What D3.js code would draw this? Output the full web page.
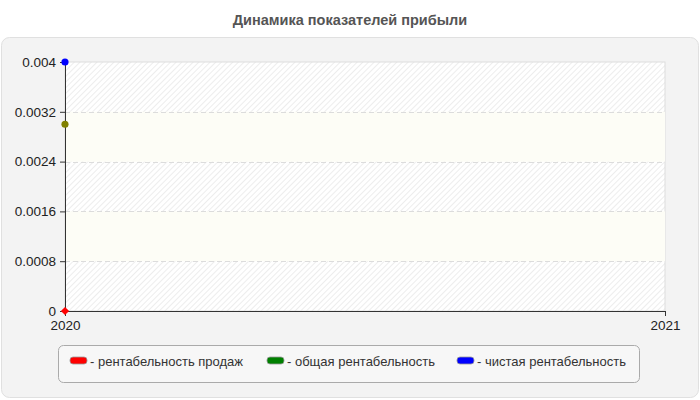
<!DOCTYPE html>
<html><head><meta charset="utf-8">
<script src="https://cdn.jsdelivr.net/npm/d3@7"></script>
<style>body{margin:0;background:#fff;}svg{display:block;font-family:Arial,"Liberation Sans",sans-serif;}</style>
</head><body>
<svg id="c" width="700" height="400"></svg>
<script>
const years = ["2020", "2021"];
const seriesNames = ["рентабельность продаж", "общая рентабельность", "чистая рентабельность"];
const seriesColors = ["#ff0000", "#008000", "#0000ff"];
const pointColors = ["#ff0000", "#808000", "#0000ff"];
const salesProfitability = [0, null];
const totalProfitability = [0.003, null];
const netProfitability = [0.004, null];
const yTicks = [0, 0.0008, 0.0016, 0.0024, 0.0032, 0.004];
const yTickLabels = ["0", "0.0008", "0.0016", "0.0024", "0.0032", "0.004"];

const series = [salesProfitability, totalProfitability, netProfitability];
const svg = d3.select("#c");
const defs = svg.append("defs");
const pat = defs.append("pattern").attr("id","hatch").attr("patternUnits","userSpaceOnUse")
  .attr("width",4).attr("height",4).attr("patternTransform","rotate(45)");
pat.append("rect").attr("width",4).attr("height",4).attr("fill","#ffffff");
pat.append("line").attr("x1",0).attr("y1",0).attr("x2",0).attr("y2",4).attr("stroke","#e8e8e8").attr("stroke-width",1.5);

svg.append("text").attr("x",350).attr("y",25).attr("text-anchor","middle")
  .attr("font-size",14.5).attr("font-weight","bold").attr("fill","#555").text("Динамика показателей прибыли");

svg.append("rect").attr("x",1.5).attr("y",37.5).attr("width",697).attr("height",360).attr("rx",8)
  .attr("fill","#f3f3f3").attr("stroke","#e0e0e0");

const L=65, R=665, T=62, B=311;
const x = d3.scalePoint().domain(years).range([L,R]);
const y = d3.scaleLinear().domain([0,0.004]).range([B,T]);

svg.append("rect").attr("x",L).attr("y",T).attr("width",R-L).attr("height",B-T).attr("fill","url(#hatch)").attr("stroke","#ddd");
for (let i=0;i<yTicks.length-1;i++){
  if (i%2===1){
    svg.append("rect").attr("x",L+1).attr("y",y(yTicks[i+1])).attr("width",R-L-1)
      .attr("height",y(yTicks[i])-y(yTicks[i+1])).attr("fill","#fdfdf6");
  }
}
svg.append("g").selectAll("line").data(yTicks.slice(1,-1)).join("line")
  .attr("x1",L).attr("x2",R).attr("y1",d=>Math.round(y(d))+0.5).attr("y2",d=>Math.round(y(d))+0.5)
  .attr("stroke","#dcdcdc").attr("stroke-dasharray","5,3");

const yAxis = svg.append("g").attr("transform",`translate(${L},0)`)
  .call(d3.axisLeft(y).tickValues(yTicks).tickFormat((d,i)=>yTickLabels[i]).tickSize(5).tickSizeOuter(0).tickPadding(4));
yAxis.select(".domain").attr("stroke","#333");
yAxis.selectAll(".tick line").attr("stroke","#333");
yAxis.selectAll("text").attr("font-size",13.5).attr("fill","#222").attr("font-family","Arial,'Liberation Sans',sans-serif");

const xAxis = svg.append("g").attr("transform",`translate(0,${B})`)
  .call(d3.axisBottom(x).tickSize(5).tickSizeOuter(0).tickPadding(4));
xAxis.select(".domain").attr("stroke","#333");
xAxis.selectAll(".tick line").attr("stroke","#333");
xAxis.selectAll("text").attr("font-size",13.5).attr("fill","#222").attr("font-family","Arial,'Liberation Sans',sans-serif");

series.forEach((s,si)=>{
  const pts = years.map((yr,i)=>({yr,v:s[i]})).filter(d=>d.v!==null);
  svg.append("path").datum(pts).attr("fill","none").attr("stroke",seriesColors[si]).attr("stroke-width",2)
    .attr("d",d3.line().x(d=>x(d.yr)).y(d=>y(d.v)));
  svg.append("g").selectAll("path").data(pts).join("path")
    .attr("transform",d=>`translate(${x(d.yr)},${y(d.v)})` + (si===0 ? " rotate(45)" : ""))
    .attr("d", si===0 ? d3.symbol(d3.symbolSquare,34)() : d3.symbol(d3.symbolCircle,40)())
    .attr("fill",pointColors[si]);
});

svg.append("rect").attr("x",58.5).attr("y",345.5).attr("width",581).attr("height",37).attr("rx",5)
  .attr("fill","#f7f7f7").attr("stroke","#aaa");
const legX = [70, 267, 457];
seriesNames.forEach((n,i)=>{
  svg.append("rect").attr("x",legX[i]).attr("y",357).attr("width",17).attr("height",7).attr("rx",3)
    .attr("fill",seriesColors[i]).attr("stroke","#999").attr("stroke-width",0.8);
  svg.append("text").attr("x",legX[i]+20).attr("y",366).attr("font-size",13).attr("fill","#333").text("- "+n);
});
</script>
</body></html>
